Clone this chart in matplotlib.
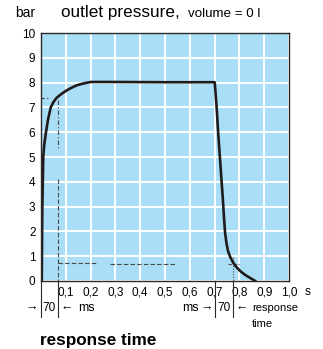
import numpy as np
import matplotlib.pyplot as plt

plt.rcParams['font.family'] = ['Liberation Sans', 'DejaVu Sans']

# curva de pressao (s, bar)
tempo = [0.003, 0.005, 0.008, 0.009, 0.013, 0.02, 0.028, 0.039, 0.05, 0.062, 0.076, 0.09, 0.105,
         0.124, 0.145, 0.164, 0.185, 0.2, 0.3, 0.5, 0.7,
         0.702, 0.708, 0.714, 0.721, 0.728, 0.733, 0.738, 0.742, 0.748, 0.754, 0.762,
         0.774, 0.786, 0.803, 0.822, 0.835, 0.85, 0.863]
pressao = [0, 2.8, 4.5, 5.0, 5.5, 6.0, 6.5, 7.0, 7.22, 7.38, 7.5, 7.6, 7.7,
           7.8, 7.9, 7.95, 8.0, 8.03, 8.03, 8.02, 8.02,
           7.8, 7.0, 6.0, 5.0, 4.0, 3.3, 2.5, 1.94, 1.5, 1.2, 0.98,
           0.75, 0.58, 0.4, 0.25, 0.17, 0.08, 0]

xticks = [0.1, 0.2, 0.3, 0.4, 0.5, 0.6, 0.7, 0.8, 0.9, 1.0]
xlabels = ['0,1', '0,2', '0,3', '0,4', '0,5', '0,6', '0,7', '0,8', '0,9', '1,0']
yticks = list(range(0, 11))

t_resp = 0.068      # 70 ms subida
t_desc = 0.7        # inicio da descida
t_desc2 = 0.774     # 70 ms depois

fig = plt.figure(figsize=(3.23, 3.49), dpi=100)
ax = fig.add_axes([0.127, 0.195, 0.768, 0.71])
ax.set_facecolor('#a9def6')
ax.set_xlim(0, 1.0)
ax.set_ylim(0, 10)
ax.set_xticks(xticks)
ax.set_xticklabels(xlabels, fontsize=8.5)
ax.set_yticks(yticks)
ax.set_yticklabels([str(v) for v in yticks], fontsize=8.5)
ax.tick_params(length=0, pad=4)
ax.grid(True, color='white', lw=1.4)
ax.set_axisbelow(True)
for s in ax.spines.values():
    s.set_color('#2a2a2a')
    s.set_linewidth(1.0)

# linhas tracejadas de leitura
cor_tr = '#4a4a4a'
ax.plot([0, 0.028], [7.38, 7.38], color=cor_tr, lw=0.8, ls=(0, (3, 2)))
ax.plot([t_resp, t_resp], [7.3, 5.3], color=cor_tr, lw=0.8, ls=(0, (4, 2, 1, 2)))
ax.plot([t_resp, t_resp], [4.1, 0], color=cor_tr, lw=0.8, ls=(0, (4, 2)))
ax.plot([t_resp, 0.225], [0.72, 0.72], color=cor_tr, lw=0.8, ls=(0, (4, 2)))
ax.plot([0.28, 0.545], [0.7, 0.7], color=cor_tr, lw=0.8, ls=(0, (4, 2)))
ax.plot([t_desc2, t_desc2], [0.95, 0], color=cor_tr, lw=0.8, ls=(0, (1, 1.5)))
ax.plot([0.754, 0.8], [0.7, 0.7], color=cor_tr, lw=0.8, ls=(0, (3, 1.5)))

ax.plot(tempo, pressao, color='#1f1a1b', lw=1.9, solid_joinstyle='round')

# marcas de 70 ms abaixo do eixo
tr = ax.get_xaxis_transform()
for xv in [0, t_resp, t_desc, t_desc2]:
    ax.plot([xv, xv], [0, -0.145], color='#2a2a2a', lw=0.8, transform=tr, clip_on=False)

yl = -0.109
ax.text(-0.012, yl, '\u2192', transform=tr, ha='right', va='center', fontsize=9)
ax.text(t_resp / 2, yl, '70', transform=tr, ha='center', va='center', fontsize=8.5)
ax.text(t_resp + 0.01, yl, '\u2190', transform=tr, ha='left', va='center', fontsize=9)
ax.text(0.148, yl, 'ms', transform=tr, ha='left', va='center', fontsize=9)

ax.text(0.57, yl, 'ms', transform=tr, ha='left', va='center', fontsize=9)
ax.text(t_desc - 0.008, yl, '\u2192', transform=tr, ha='right', va='center', fontsize=9)
ax.text((t_desc + t_desc2) / 2, yl, '70', transform=tr, ha='center', va='center', fontsize=8.5)
ax.text(t_desc2 + 0.012, yl, '\u2190', transform=tr, ha='left', va='center', fontsize=9)
ax.text(0.85, yl, 'response', transform=tr, ha='left', va='center', fontsize=8)
ax.text(0.85, yl - 0.065, 'time', transform=tr, ha='left', va='center', fontsize=8)
ax.text(1.062, -0.045, 's', transform=tr, ha='left', va='center', fontsize=8.5)

fig.text(0.046, 0.951, 'bar', fontsize=10, va='baseline')
fig.text(0.19, 0.951, 'outlet pressure,', fontsize=12.3, va='baseline')
fig.text(0.582, 0.951, 'volume = 0 l', fontsize=9.6, va='baseline')
fig.text(0.124, 0.0115, 'response time', fontsize=12.3, fontweight='bold', va='baseline')

fig.savefig('out.png', dpi=100)
